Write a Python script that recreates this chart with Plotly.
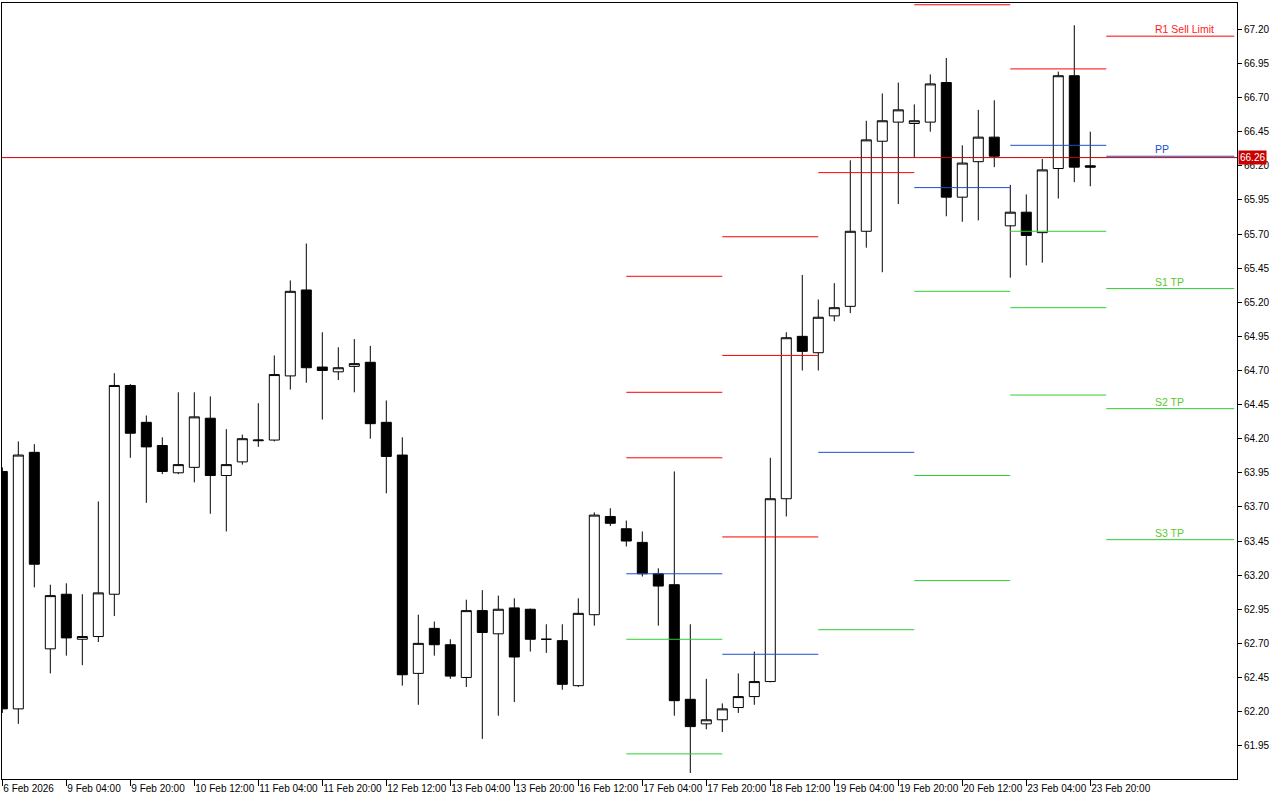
import plotly.graph_objects as go

# ---- candle data (4h bars, index 0 = 6 Feb 2026 12:00) ----
opens = [63.96, 62.22, 64.10, 62.66, 63.06, 62.73, 62.75, 63.06, 64.59, 64.32,
         64.15, 63.95, 63.99, 64.35, 63.93, 64.03, 64.185, 64.19, 64.66, 65.29,
         64.725, 64.69, 64.73, 64.76, 64.32, 64.08, 62.48, 62.81, 62.69, 62.45,
         62.94, 62.77, 62.96, 62.95, 62.73, 62.72, 62.39, 62.91, 63.63, 63.54,
         63.44, 63.21, 63.13, 62.29, 62.11, 62.14, 62.23, 62.31, 62.42, 63.76,
         64.95, 64.83, 65.10, 65.17, 65.72, 66.38, 66.52, 66.51, 66.52, 66.81,
         65.97, 66.23, 66.41, 65.76, 65.86, 65.71, 66.18, 66.86, 66.20]
highs = [63.99, 64.18, 64.16, 63.13, 63.14, 63.06, 63.74, 64.68, 64.60, 64.37,
         64.21, 64.54, 64.54, 64.51, 64.27, 64.23, 64.46, 64.81, 65.36, 65.63,
         64.98, 64.87, 64.93, 64.88, 64.48, 64.21, 62.91, 62.86, 62.73, 63.02,
         63.09, 63.05, 63.03, 62.955, 62.84, 62.84, 63.03, 63.66, 63.69, 63.60,
         63.52, 63.25, 63.96, 62.84, 62.44, 62.26, 62.48, 62.64, 64.06, 64.98,
         65.40, 65.22, 65.34, 66.24, 66.53, 66.73, 66.81, 66.65, 66.87, 66.99,
         66.35, 66.61, 66.68, 66.06, 65.99, 66.25, 66.89, 67.23, 66.45]
lows = [62.19, 62.11, 63.11, 62.48, 62.61, 62.54, 62.71, 62.90, 64.06, 63.73,
        63.94, 63.94, 63.88, 63.65, 63.52, 64.01, 64.14, 64.18, 64.56, 64.61,
        64.34, 64.63, 64.54, 64.20, 63.80, 62.39, 62.25, 62.61, 62.44, 62.38,
        62.00, 62.17, 62.27, 62.64, 62.63, 62.36, 62.38, 62.83, 63.56, 63.41,
        63.19, 62.83, 62.17, 61.75, 62.07, 62.05, 62.19, 62.25, 62.415, 63.63,
        64.70, 64.70, 65.06, 65.12, 65.60, 65.42, 65.92, 66.26, 66.45, 65.83,
        65.79, 65.80, 66.19, 65.38, 65.47, 65.49, 65.96, 66.08, 66.05]
closes = [62.22, 64.08, 63.28, 63.05, 62.74, 62.75, 63.07, 64.59, 64.24, 64.14,
          63.96, 64.01, 64.36, 63.93, 64.01, 64.20, 64.19, 64.67, 65.28, 64.72,
          64.70, 64.72, 64.75, 64.31, 64.07, 62.47, 62.70, 62.69, 62.46, 62.94,
          62.78, 62.95, 62.60, 62.73, 62.73, 62.40, 62.92, 63.64, 63.58, 63.45,
          63.21, 63.12, 62.28, 62.09, 62.14, 62.22, 62.31, 62.42, 63.76, 64.94,
          64.84, 65.09, 65.16, 65.72, 66.39, 66.53, 66.61, 66.53, 66.80, 65.97,
          66.22, 66.41, 66.27, 65.86, 65.69, 66.17, 66.86, 66.19, 66.19]
bar_index = list(range(len(opens)))

# ---- axis labels ----
x_tick_idx = [0, 4, 8, 12, 16, 20, 24, 28, 32, 36, 40, 44, 48, 52, 56, 60, 64, 68]
x_tick_labels = ["6 Feb 2026", "9 Feb 04:00", "9 Feb 20:00", "10 Feb 12:00",
                 "11 Feb 04:00", "11 Feb 20:00", "12 Feb 12:00", "13 Feb 04:00",
                 "13 Feb 20:00", "16 Feb 12:00", "17 Feb 04:00", "17 Feb 20:00",
                 "18 Feb 12:00", "19 Feb 04:00", "19 Feb 20:00", "20 Feb 12:00",
                 "23 Feb 04:00", "23 Feb 20:00"]
y_tick_vals = [61.95, 62.20, 62.45, 62.70, 62.95, 63.20, 63.45, 63.70, 63.95,
               64.20, 64.45, 64.70, 64.95, 65.20, 65.45, 65.70, 65.95, 66.20,
               66.45, 66.70, 66.95, 67.20]
y_tick_text = ["61.95", "62.20", "62.45", "62.70", "62.95", "63.20", "63.45", "63.70",
               "63.95", "64.20", "64.45", "64.70", "64.95", "65.20", "65.45", "65.70",
               "65.95", "66.20", "66.45", "66.70", "66.95", "67.20"]

# ---- daily pivot levels (segment start/end in bar index) ----
day_start = [39, 45, 51, 57, 63, 69]
day_end = [45, 51, 57, 63, 69, 77]
lvl_r3 = [65.39, 65.68, None, None, None, None]
lvl_r2 = [64.54, 64.81, None, None, None, None]
lvl_r1 = [64.06, 63.48, 66.15, 67.38, 66.91, 67.15]
lvl_pp = [63.21, 62.62, 64.10, 66.04, 66.35, 66.27]
lvl_s1 = [62.73, None, 62.80, 65.28, 65.72, 65.30]
lvl_s2 = [61.89, None, None, 63.93, 65.16, 64.42]
lvl_s3 = [None, None, None, 63.16, 64.52, 63.46]
label_names = ["R1 Sell Limit", "PP", "S1 TP", "S2 TP", "S3 TP"]
label_levels = [lvl_r1[-1], lvl_pp[-1], lvl_s1[-1], lvl_s2[-1], lvl_s3[-1]]
label_colors = ["#ff1a1a", "#2050d0", "#5cc82a", "#5cc82a", "#5cc82a"]
label_x = 71.9
current_price = 66.26

RED = "#ff0000"
BLUE = "#1c50c8"
GREEN = "#32cd32"

fig = go.Figure()
fig.add_trace(go.Candlestick(
    x=bar_index, open=opens, high=highs, low=lows, close=closes,
    increasing=dict(fillcolor="white", line=dict(color="black", width=1)),
    decreasing=dict(fillcolor="black", line=dict(color="black", width=1)),
    whiskerwidth=0, showlegend=False, hoverinfo="skip"))


def segs(levels):
    xs, ys = [], []
    for s, e, v in zip(day_start, day_end, levels):
        if v is None:
            continue
        xs += [s, e, None]
        ys += [v, v, None]
    return xs, ys


fig.add_shape(type="line", xref="paper", x0=0, x1=1, y0=current_price, y1=current_price,
              line=dict(color="#cc0000", width=1), layer="above")

for levels, col in [(lvl_r3, RED), (lvl_r2, RED), (lvl_r1, RED), (lvl_pp, BLUE),
                    (lvl_s1, GREEN), (lvl_s2, GREEN), (lvl_s3, GREEN)]:
    xs, ys = segs(levels)
    fig.add_trace(go.Scatter(x=xs, y=ys, mode="lines", line=dict(color=col, width=1),
                             showlegend=False, hoverinfo="skip"))

for name, lv, col in zip(label_names, label_levels, label_colors):
    fig.add_annotation(x=label_x, y=lv, text=name, showarrow=False, xanchor="left",
                       yanchor="bottom", yshift=-1,
                       font=dict(family="Liberation Sans, Arial", size=10.5, color=col))

fig.add_annotation(xref="paper", x=1, xanchor="left", xshift=1, y=current_price,
                   yanchor="middle", text=f"{current_price:.2f}", showarrow=False,
                   bgcolor="#c80000", borderpad=1,
                   font=dict(family="Liberation Sans, Arial", size=10, color="white"))

fig.update_layout(
    width=1280, height=800,
    margin=dict(l=2, r=43, t=3, b=21, autoexpand=False),
    paper_bgcolor="white", plot_bgcolor="white",
    boxgap=0.375, boxgroupgap=0,
    font=dict(family="Liberation Sans, Arial", size=10, color="black"),
    showlegend=False,
    xaxis=dict(range=[-0.02, 77.17], rangeslider=dict(visible=False),
               tickvals=x_tick_idx, ticktext=x_tick_labels, tickangle=0,
               ticks="outside", ticklen=6, tickcolor="black", tickwidth=1,
               ticklabelposition="outside right", automargin=False,
               showgrid=False, zeroline=False, showline=True, mirror=True,
               linecolor="black", linewidth=1),
    yaxis=dict(range=[61.706, 67.393], side="right", tickvals=y_tick_vals,
               ticktext=y_tick_text, ticks="outside", ticklen=4, tickcolor="black",
               automargin=False,
               showgrid=False, zeroline=False, showline=True, mirror=True,
               linecolor="black", linewidth=1),
)

fig.write_html("out.html", config={"displayModeBar": False},
               post_script="document.body.style.margin='0';document.body.style.overflow='hidden';")
